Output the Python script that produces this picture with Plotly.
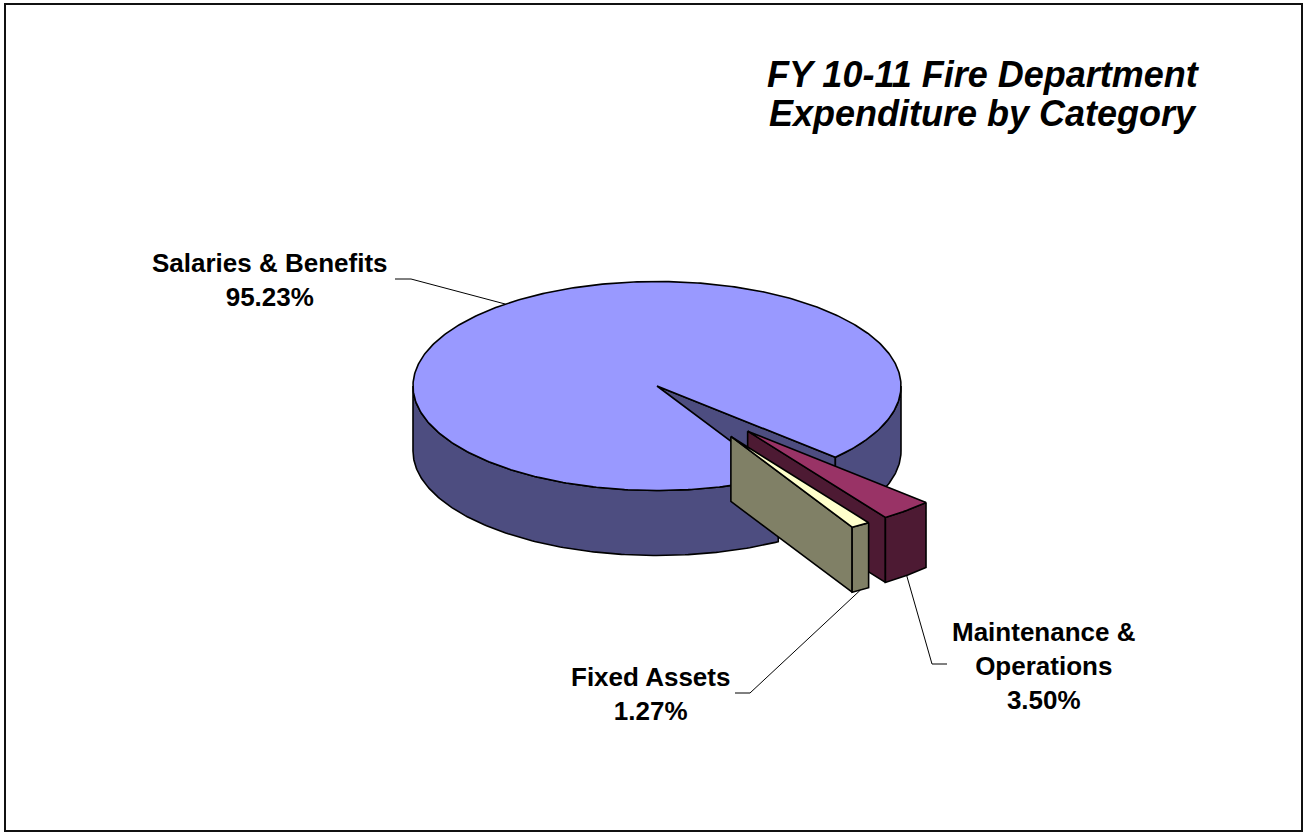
import numpy as np
import plotly.graph_objects as go

# ---- data ----
categories = ["Salaries & Benefits", "Maintenance &<br>Operations", "Fixed Assets"]
percent = [95.23, 3.50, 1.27]
exploded = [False, True, True]
title_lines = ["FY 10-11 Fire Department", "Expenditure by Category"]

# ---- styling / layout ----
top_colors = ["#9999FF", "#993366", "#FFFFCC"]
side_colors = ["#4D4D80", "#4D1A33", "#808066"]

W, H = 1304, 833
CX, CY = 657.0, 386.0        # centre of the pie's top face
RX, RY = 244.0, 104.5        # projected radii of the tilted disc
DEPTH = 65.0                 # thickness of the disc
START_DEG = 60.2             # where the first slice begins (clockwise from east)
EXPLODE = 0.57               # radial offset of exploded slices (fraction of radius)
EDGE = dict(color="black", width=1.6)
FONT = "Liberation Sans, Arial, sans-serif"

label_anchor = [(270, 246), (1044, 615), (650, 660)]
leader_tail = [[(411, 279), (395, 279)], [(932, 664), (947, 664)], [(750, 693), (735, 693)]]
title_x, title_tops = 983, (52, 91)

fig = go.Figure()


def pt(theta_deg, r, off, dz=0.0):
    t = np.radians(theta_deg)
    return (off[0] + CX + RX * r * np.cos(t),
            off[1] + CY + RY * r * np.sin(t) + dz)


def arc(a, b, off, dz=0.0):
    n = max(2, int(abs(b - a) / 0.75) + 2)
    th = np.linspace(a, b, n)
    x, y = pt(th, 1.0, off, dz)
    return list(x), list(y)


def poly(xs, ys, fill):
    fig.add_trace(go.Scatter(
        x=xs + [xs[0]], y=ys + [ys[0]], mode="lines", fill="toself",
        fillcolor=fill, line=EDGE, hoverinfo="skip", showlegend=False))


def draw_slice(a, b, off, top, side):
    # radial cut faces that turn toward the viewer
    for edge, visible in ((a, np.cos(np.radians(a)) < 0),
                          (b, np.cos(np.radians(b)) > 0)):
        if visible:
            x0, y0 = pt(edge, 0.0, off)
            x1, y1 = pt(edge, 1.0, off)
            poly([x0, x1, x1, x0], [y0, y1, y1 + DEPTH, y0 + DEPTH], side)
    # front half of the outer rim
    for k in range(int(np.floor(a / 360)) - 1, int(np.ceil(b / 360)) + 1):
        lo, hi = max(a, 360 * k), min(b, 360 * k + 180)
        if hi > lo:
            xt, yt = arc(lo, hi, off)
            xb, yb = arc(hi, lo, off, DEPTH)
            poly(xt + xb, yt + yb, side)
    # top face
    xs, ys = arc(a, b, off)
    cx0, cy0 = pt(0, 0.0, off)
    poly([cx0] + xs, [cy0] + ys, top)


# slice angles from the shares
spans = [p / sum(percent) * 360.0 for p in percent]
starts = START_DEG + np.concatenate([[0.0], np.cumsum(spans)[:-1]])
slices = []
for i, (s, sp) in enumerate(zip(starts, spans)):
    mid = np.radians(s + sp / 2)
    off = (RX * EXPLODE * np.cos(mid), RY * EXPLODE * np.sin(mid)) if exploded[i] else (0.0, 0.0)
    slices.append((i, s, s + sp, off))

# back-to-front drawing order
for i, a, b, off in sorted(slices, key=lambda t: (t[3] != (0.0, 0.0), t[3][1])):
    draw_slice(a, b, off, top_colors[i], side_colors[i])

# leader lines and labels
for i, a, b, off in slices:
    mid = (a + b) / 2
    dz = DEPTH if np.sin(np.radians(mid)) > 0 else 0.0
    x0, y0 = pt(mid, 1.0, off, dz)
    xs = [x0] + [p[0] for p in leader_tail[i]]
    ys = [y0] + [p[1] for p in leader_tail[i]]
    fig.add_trace(go.Scatter(x=xs, y=ys, mode="lines",
                             line=dict(color="black", width=1),
                             hoverinfo="skip", showlegend=False))
    fig.add_annotation(
        x=label_anchor[i][0], y=label_anchor[i][1], xref="x", yref="y",
        text=f"{categories[i]}<br>{percent[i]:.2f}%", showarrow=False,
        xanchor="center", yanchor="top", align="center",
        font=dict(family=FONT, size=26, color="black", weight="bold"))

# chart title
for line, ty in zip(title_lines, title_tops):
    fig.add_annotation(
        x=title_x, y=ty, xref="x", yref="y", text=line, showarrow=False,
        xanchor="center", yanchor="top",
        font=dict(family=FONT, size=36, color="black", weight="bold", style="italic"))

fig.add_shape(type="rect", xref="paper", yref="paper",
              x0=5 / W, x1=1302 / W, y0=1 - 4 / H, y1=1 - 831 / H,
              line=dict(color="#111111", width=2), fillcolor="rgba(0,0,0,0)")

fig.update_layout(
    width=W, height=H, autosize=False,
    margin=dict(l=0, r=0, t=0, b=0),
    paper_bgcolor="white", plot_bgcolor="white",
    xaxis=dict(range=[0, W], visible=False, fixedrange=True),
    yaxis=dict(range=[H, 0], visible=False, fixedrange=True),
    showlegend=False,
)

fig.write_html("out.html", config={"displayModeBar": False})
